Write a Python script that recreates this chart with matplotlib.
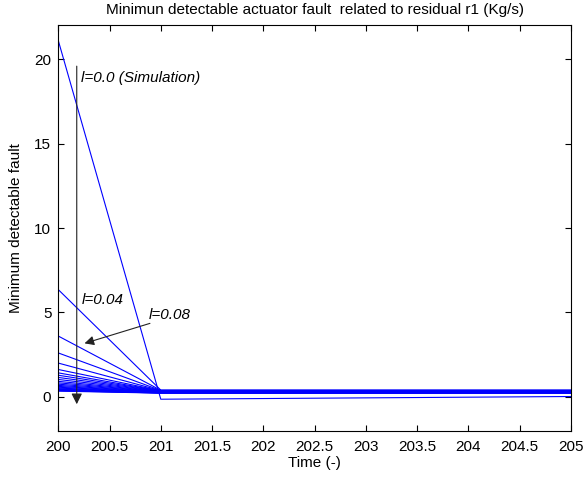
import numpy as np
import matplotlib
matplotlib.use("Agg")
import matplotlib.pyplot as plt

plt.rcParams['font.family'] = ['Liberation Sans', 'DejaVu Sans']

# time samples (s)
time = [200, 201, 202, 203, 204, 205]

# l = 0.0 (simulation) curve
sim_curve = [21.1, -0.14, -0.10, -0.06, -0.02, 0.02]

# other curves: value at t=200 and flat level from t=201 on
start_vals = [6.35, 3.6, 2.6, 2.0, 1.62, 1.42, 1.28, 1.15, 1.03, 0.92,
              0.83, 0.75, 0.68, 0.62, 0.57, 0.52, 0.48, 0.45, 0.42, 0.40,
              0.38, 0.36, 0.34]
flat_vals = [0.40, 0.39, 0.38, 0.37, 0.36, 0.35, 0.34, 0.33, 0.32, 0.31,
             0.30, 0.29, 0.28, 0.27, 0.26, 0.26, 0.25, 0.25, 0.24, 0.24,
             0.23, 0.23, 0.22]

x_ticks = [200, 200.5, 201, 201.5, 202, 202.5, 203, 203.5, 204, 204.5, 205]
x_tick_labels = ['200', '200.5', '201', '201.5', '202', '202.5', '203',
                 '203.5', '204', '204.5', '205']
y_ticks = [0, 5, 10, 15, 20]

fig = plt.figure(figsize=(5.83, 4.79), dpi=100)
ax = fig.add_axes([0.100, 0.101, 0.879, 0.846])

blue = '#0000ff'
ax.plot(time, sim_curve, color=blue, lw=0.8)
for s, f in zip(start_vals, flat_vals):
    ax.plot(time, [s] + [f] * (len(time) - 1), color=blue, lw=0.8)

# annotations
arrow_col = '#222222'
ax.annotate('', xy=(200.18, -0.6), xytext=(200.18, 19.75),
            arrowprops=dict(arrowstyle='-|>', color=arrow_col, lw=0.8,
                            mutation_scale=16))
ax.text(200.225, 18.9, 'l=0.0 (Simulation)', fontsize=11, style='italic',
        va='center', ha='left')
ax.text(200.23, 5.76, 'l=0.04', fontsize=11, style='italic',
        va='center', ha='left')
ax.text(200.88, 4.87, 'l=0.08', fontsize=11, style='italic',
        va='center', ha='left')
ax.annotate('', xy=(200.23, 3.12), xytext=(200.92, 4.4),
            arrowprops=dict(arrowstyle='-|>', color=arrow_col, lw=0.8,
                            mutation_scale=14))

ax.set_xlim(200, 205)
ax.set_ylim(-2, 22)
ax.set_xticks(x_ticks)
ax.set_xticklabels(x_tick_labels)
ax.set_yticks(y_ticks)
ax.tick_params(direction='in', length=4, width=0.8, top=True, right=True,
               labelsize=11)
ax.tick_params(axis='x', pad=7)
ax.tick_params(axis='y', pad=5)
for sp in ax.spines.values():
    sp.set_linewidth(0.8)

ax.set_xlabel('Time (-)', fontsize=11, labelpad=1)
ax.set_ylabel('Minimum detectable fault', fontsize=11, labelpad=8)
ax.set_title('Minimun detectable actuator fault  related to residual r1 (Kg/s)',
             fontsize=11, pad=8)

fig.savefig('out.png', dpi=100)
